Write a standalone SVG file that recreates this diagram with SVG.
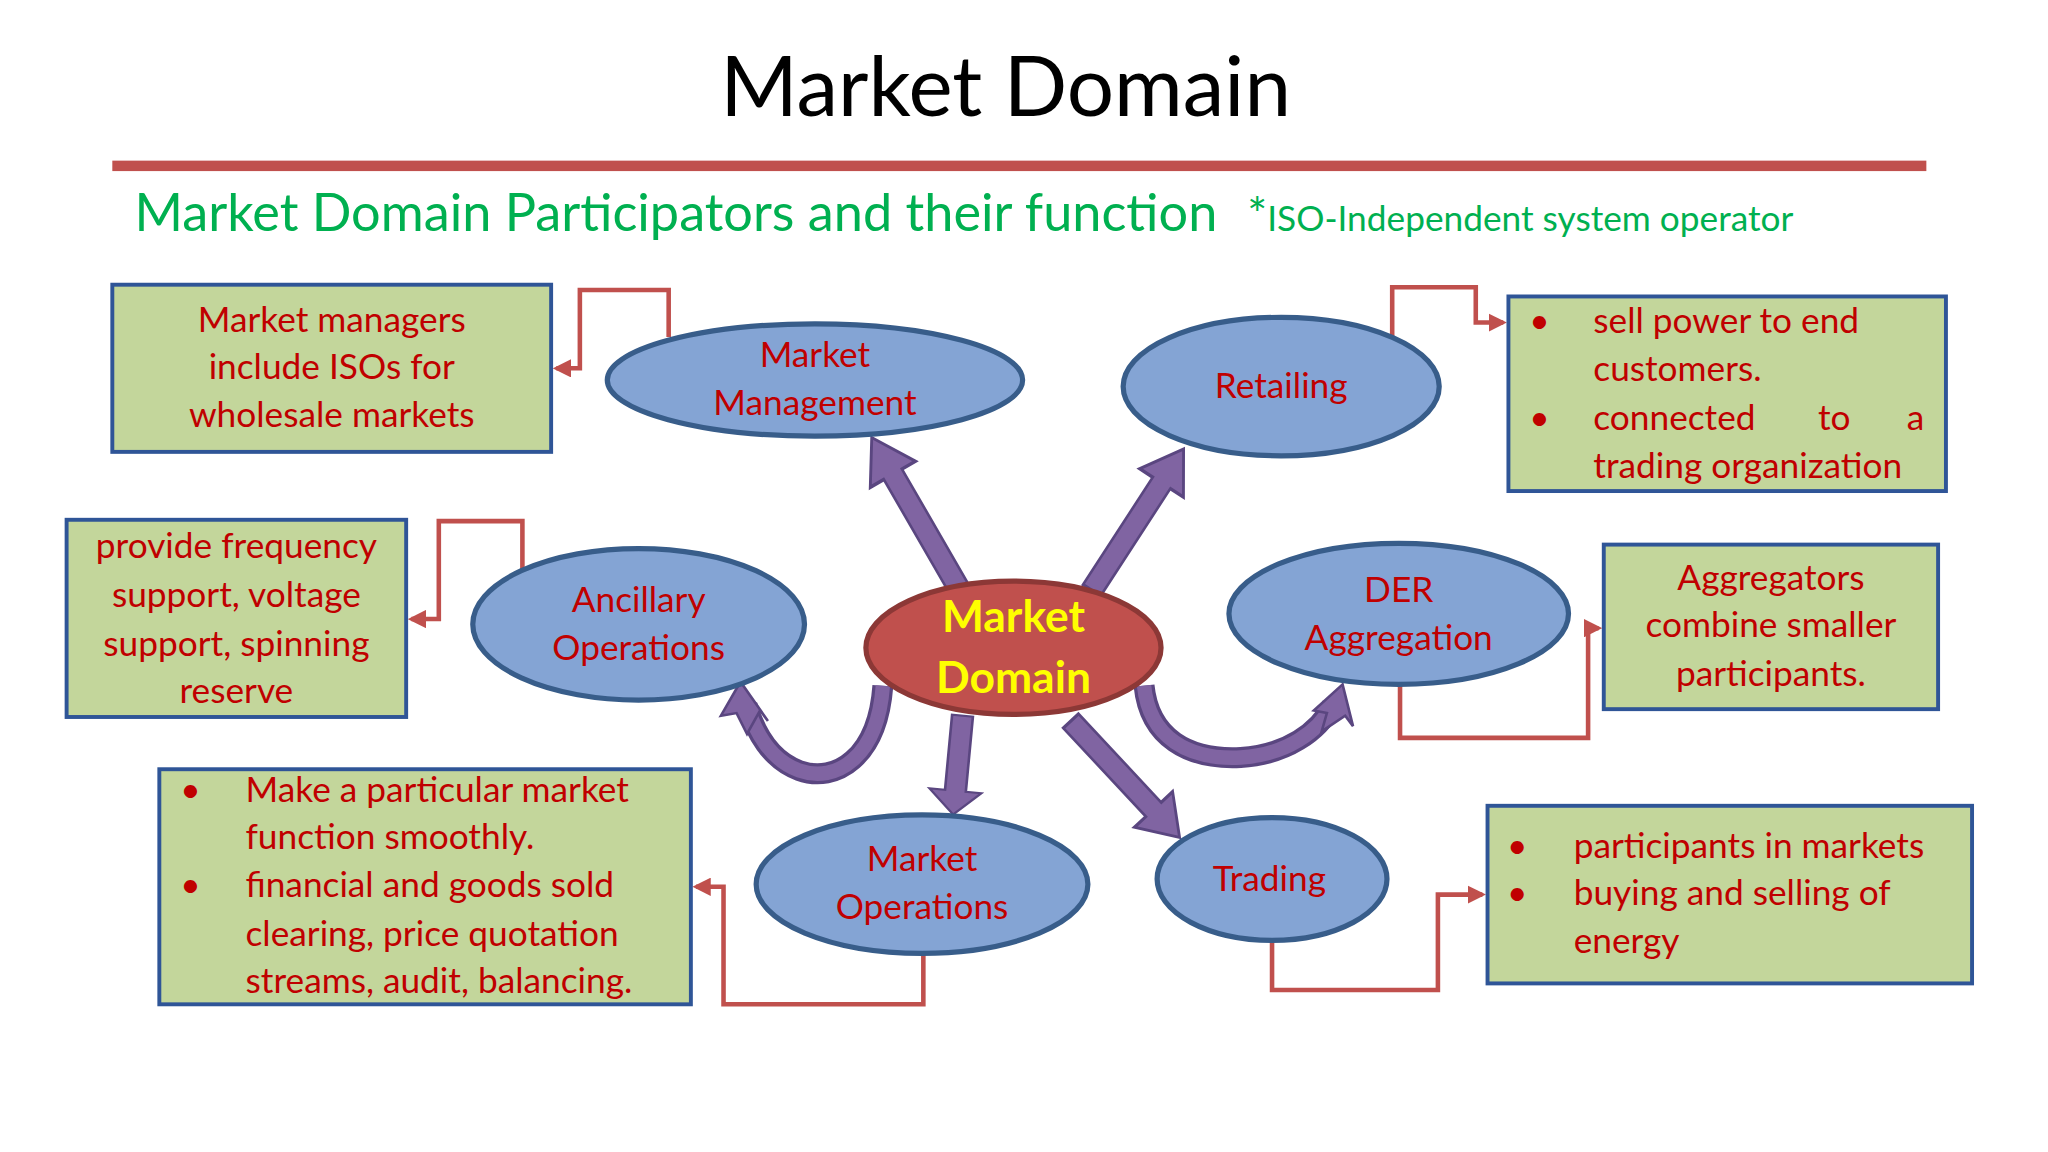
<svg xmlns="http://www.w3.org/2000/svg" width="2048" height="1152" viewBox="0 0 2048 1152">
<style>
.t{font-family:Lato,"Open Sans",sans-serif}
.box{fill:#c3d69b;stroke:#2f5597;stroke-width:3}
.bt{font-family:Lato,"Open Sans",sans-serif;font-size:27px;fill:#c00000}
.el{fill:#84a4d4;stroke:#385d8a;stroke-width:4}
.et{font-family:Lato,"Open Sans",sans-serif;font-size:27px;fill:#c00000;text-anchor:middle}
.con{fill:none;stroke:#c0504d;stroke-width:3.5}
.pa{fill:#8064a2;stroke:#5a4680;stroke-width:2}
</style>
<defs>
<marker id="ah" viewBox="0 0 10 10" refX="8" refY="5" markerWidth="4" markerHeight="4" orient="auto"><path d="M0,0 L10,5 L0,10 Z" fill="#c0504d"/></marker>
<polygon id="blk" points="0,-8 -76,-8 -76,-20 -100,0 -76,20 -76,8 0,8"/>
</defs>
<rect width="2048" height="1152" fill="#fff"/>
<g transform="scale(1.306)">
<text class="t" x="770" y="89" font-size="64" text-anchor="middle" fill="#000">Market Domain</text>
<rect x="86" y="123" width="1389" height="8" fill="#c0504d"/>
<text class="t" x="103" y="177" font-size="40" fill="#00b050">Market Domain Participators and their function</text>
<text class="t" x="955" y="177" font-size="27" fill="#00b050"><tspan font-size="36">*</tspan>ISO-Independent system operator</text>

<g id="connectors">
<path class="con" d="M512,258 V222 H444 V282 H426" marker-end="url(#ah)"/>
<path class="con" d="M1066,258 V220 H1130 V247 H1151" marker-end="url(#ah)"/>
<path class="con" d="M400,437 V399 H336 V474 H315" marker-end="url(#ah)"/>
<path class="con" d="M1072,523 V565 H1216 V481 H1224" marker-end="url(#ah)"/>
<path class="con" d="M707,730 V769 H554 V679 H533" marker-end="url(#ah)"/>
<path class="con" d="M974,720 V758 H1101 V685 H1135" marker-end="url(#ah)"/>
<use href="#blk" class="pa" transform="translate(735,452) rotate(60) scale(1.35,1)"/>
<use href="#blk" class="pa" transform="translate(836,452) rotate(123) scale(1.29,1)"/>
<use href="#blk" class="pa" transform="translate(737,548) rotate(-84.6) scale(0.76,1)"/>
<use href="#blk" class="pa" transform="translate(820,552) rotate(-133) scale(1.22,1)"/>
<path d="M676,525 C672,580 640,600 612,590 C590,582 578,560 572,540" fill="none" stroke="#5a4680" stroke-width="16"/>
<path d="M676,525 C672,580 640,600 612,590 C590,582 578,560 572,540" fill="none" stroke="#8064a2" stroke-width="11"/>
<polygon class="pa" points="567,522 552,548 564,546 572,562 582,544 588,552"/>
<path d="M876,525 C880,565 910,582 950,580 C985,578 1010,560 1020,540" fill="none" stroke="#5a4680" stroke-width="16"/>
<path d="M876,525 C880,565 910,582 950,580 C985,578 1010,560 1020,540" fill="none" stroke="#8064a2" stroke-width="11"/>
<polygon class="pa" points="1028,524 1006,544 1016,546 1012,560 1030,548 1036,556"/>
</g>

<g id="box1"><rect class="box" x="86" y="218" width="336" height="128"/>
<text class="bt" text-anchor="middle"><tspan x="254" y="254">Market managers</tspan><tspan x="254" y="290">include ISOs for</tspan><tspan x="254" y="327">wholesale markets</tspan></text></g>
<g id="box2"><rect class="box" x="51" y="398" width="260" height="151"/>
<text class="bt" text-anchor="middle"><tspan x="181" y="427">provide frequency</tspan><tspan x="181" y="465">support, voltage</tspan><tspan x="181" y="502">support, spinning</tspan><tspan x="181" y="538">reserve</tspan></text></g>
<g id="box3"><rect class="box" x="122" y="589" width="407" height="180"/>
<text class="bt"><tspan x="138" y="614">•</tspan><tspan x="188" y="614">Make a particular market</tspan><tspan x="188" y="650">function smoothly.</tspan><tspan x="138" y="687">•</tspan><tspan x="188" y="687">financial and goods sold</tspan><tspan x="188" y="724">clearing, price quotation</tspan><tspan x="188" y="760">streams, audit, balancing.</tspan></text></g>
<g id="box4"><rect class="box" x="1155" y="227" width="335" height="149"/>
<text class="bt"><tspan x="1171" y="255">•</tspan><tspan x="1220" y="255">sell power to end</tspan><tspan x="1220" y="292">customers.</tspan><tspan x="1171" y="329">•</tspan><tspan x="1220" y="329">connected</tspan><tspan x="1392" y="329">to</tspan><tspan x="1460" y="329">a</tspan><tspan x="1220" y="366">trading organization</tspan></text></g>
<g id="box5"><rect class="box" x="1228" y="417" width="256" height="126"/>
<text class="bt" text-anchor="middle"><tspan x="1356" y="452">Aggregators</tspan><tspan x="1356" y="488">combine smaller</tspan><tspan x="1356" y="525">participants.</tspan></text></g>
<g id="box6"><rect class="box" x="1139" y="617" width="371" height="136"/>
<text class="bt"><tspan x="1154" y="657">•</tspan><tspan x="1205" y="657">participants in markets</tspan><tspan x="1154" y="693">•</tspan><tspan x="1205" y="693">buying and selling of</tspan><tspan x="1205" y="730">energy</tspan></text></g>

<g id="mm"><ellipse class="el" cx="624" cy="291" rx="159" ry="43"/><text class="et"><tspan x="624" y="281">Market</tspan><tspan x="624" y="318">Management</tspan></text></g>
<g id="ret"><ellipse class="el" cx="981" cy="296" rx="121" ry="53"/><text class="et" x="981" y="305">Retailing</text></g>
<g id="anc"><ellipse class="el" cx="489" cy="478" rx="127" ry="58"/><text class="et"><tspan x="489" y="469">Ancillary</tspan><tspan x="489" y="505">Operations</tspan></text></g>
<g id="der"><ellipse class="el" cx="1071" cy="470" rx="130" ry="54"/><text class="et"><tspan x="1071" y="461">DER</tspan><tspan x="1071" y="498">Aggregation</tspan></text></g>
<g id="mo"><ellipse class="el" cx="706" cy="677" rx="127" ry="53"/><text class="et"><tspan x="706" y="667">Market</tspan><tspan x="706" y="704">Operations</tspan></text></g>
<g id="trd"><ellipse class="el" cx="974" cy="673" rx="88" ry="47"/><text class="et" x="972" y="682">Trading</text></g>
<g id="center"><ellipse cx="776" cy="496" rx="113" ry="51" fill="#c0504d" stroke="#8c3836" stroke-width="4"/>
<text class="t" font-size="34" font-weight="bold" fill="#ffff00" text-anchor="middle"><tspan x="776" y="484">Market</tspan><tspan x="776" y="531">Domain</tspan></text></g>
</g>
</svg>
